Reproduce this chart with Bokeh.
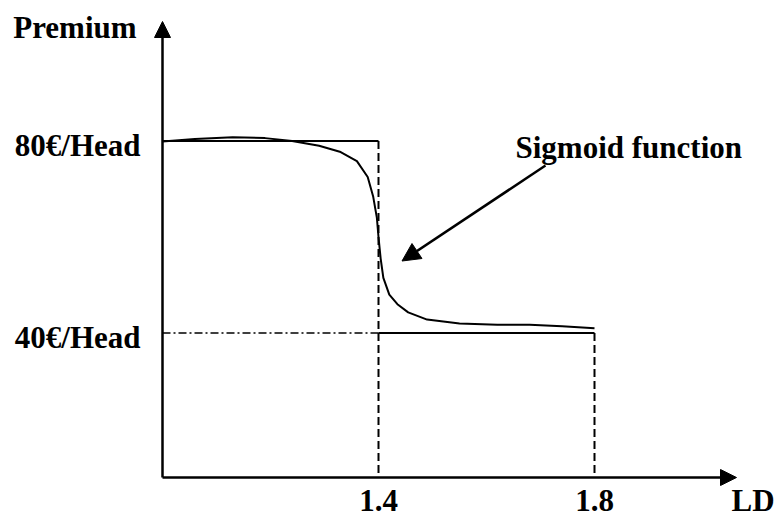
from bokeh.plotting import figure
from bokeh.models import Range1d, Arrow, NormalHead, Label
from bokeh.embed import file_html
from bokeh.resources import INLINE
from bokeh.core.properties import value

# ---------------- data ----------------
thresholds = [1.4, 1.8]            # LD thresholds
premiums = [80, 40]                # premium levels (€/Head)
x_tick_labels = ["1.4", "1.8"]
y_tick_labels = ["80€/Head", "40€/Head"]

sigmoid_ld = [1.00, 1.06, 1.13, 1.19, 1.24, 1.29, 1.33, 1.36, 1.38, 1.39,
              1.397, 1.400, 1.404, 1.409, 1.42, 1.435, 1.455, 1.49, 1.55,
              1.62, 1.68, 1.74, 1.80]
sigmoid_premium = [79.9, 80.4, 80.8, 80.6, 80.0, 79.0, 77.7, 75.8, 72.5, 68.5,
                   64.0, 60.0, 55.5, 51.5, 48.0, 46.0, 44.3, 42.8, 42.0,
                   41.7, 41.7, 41.4, 41.0]

x_title = "LD"
y_title = "Premium"
curve_label = "Sigmoid function"

# ---------------- layout ----------------
W, H = 776, 519
SX, SY = 540.0, 4.8                 # px per unit
X_AXIS_POS = 1.0                    # where the y axis stands
X_MIN = X_AXIS_POS - 162 / SX
X_MAX = X_MIN + W / SX
Y_MAX = 80 + 140.5 / SY
Y_MIN = Y_MAX - H / SY
Y_AXIS_POS = Y_MAX - 477 / SY       # where the x axis lies
X_TIP = X_MIN + 736 / SX
Y_TIP = Y_MAX - 21 / SY

FONT = value("Liberation Serif")
FS = "31px"

p = figure(width=W, height=H, output_backend="svg", toolbar_location=None,
           x_range=Range1d(X_MIN, X_MAX), y_range=Range1d(Y_MIN, Y_MAX),
           x_axis_location=None, y_axis_location=None,
           min_border=0, min_border_left=0, min_border_right=0,
           min_border_top=0, min_border_bottom=0)
p.grid.visible = False
p.outline_line_color = None
p.background_fill_color = "white"
p.border_fill_color = "white"

# axes with arrows
p.add_layout(Arrow(end=NormalHead(size=16, fill_color="black", line_color="black"),
                   x_start=X_AXIS_POS, y_start=Y_AXIS_POS, x_end=X_TIP, y_end=Y_AXIS_POS,
                   line_width=2.5, line_color="black"))
p.add_layout(Arrow(end=NormalHead(size=16, fill_color="black", line_color="black"),
                   x_start=X_AXIS_POS, y_start=Y_AXIS_POS, x_end=X_AXIS_POS, y_end=Y_TIP,
                   line_width=2.5, line_color="black"))

hi, lo = premiums
t1, t2 = thresholds

# step function
p.segment(x0=[X_AXIS_POS], y0=[hi], x1=[t1], y1=[hi], line_color="black", line_width=2)
p.segment(x0=[t1], y0=[lo], x1=[t2], y1=[lo], line_color="black", line_width=2)
p.segment(x0=[X_AXIS_POS], y0=[lo], x1=[t1], y1=[lo], line_color="black",
          line_width=1.5, line_dash="8 3 2 3")
p.segment(x0=[t1, t2], y0=[hi, lo], x1=[t1, t2], y1=[Y_AXIS_POS, Y_AXIS_POS],
          line_color="black", line_width=2, line_dash="8 4")

# sigmoid curve
p.line(sigmoid_ld, sigmoid_premium, line_color="black", line_width=2)

# tick labels
p.text(x=thresholds, y=[Y_AXIS_POS] * len(thresholds), text=x_tick_labels,
       text_font=FONT, text_font_size=FS, text_font_style="bold",
       text_align="center", text_baseline="alphabetic", y_offset=23, text_color="black")
p.text(x=[X_AXIS_POS] * len(premiums), y=premiums, text=y_tick_labels,
       text_font=FONT, text_font_size=FS, text_font_style="bold",
       text_align="right", text_baseline="alphabetic", x_offset=-22, y_offset=4,
       text_color="black")

# titles
p.add_layout(Label(x=X_MIN + 731 / SX, y=Y_AXIS_POS, text=x_title, text_font="Liberation Serif",
                   text_font_size=FS, text_font_style="bold", text_align="left",
                   text_baseline="alphabetic", y_offset=-23, text_color="black"))
p.add_layout(Label(x=X_MIN + 12.7 / SX, y=Y_MAX - 27 / SY, text=y_title,
                   text_font="Liberation Serif", text_font_size=FS,
                   text_font_style="bold", text_align="left",
                   text_baseline="alphabetic", text_color="black"))

# curve annotation
p.add_layout(Label(x=X_MIN + 515 / SX, y=Y_MAX - 147 / SY, text=curve_label,
                   text_font="Liberation Serif", text_font_size=FS,
                   text_font_style="bold", text_align="left",
                   text_baseline="alphabetic", text_color="black"))
p.add_layout(Arrow(end=NormalHead(size=18, fill_color="black", line_color="black"),
                   x_start=X_MIN + 545 / SX, y_start=Y_MAX - 165 / SY,
                   x_end=X_MIN + 401.5 / SX, y_end=Y_MAX - 260.5 / SY,
                   line_width=2.5, line_color="black"))

open("out.html", "w").write(file_html(p, INLINE))
